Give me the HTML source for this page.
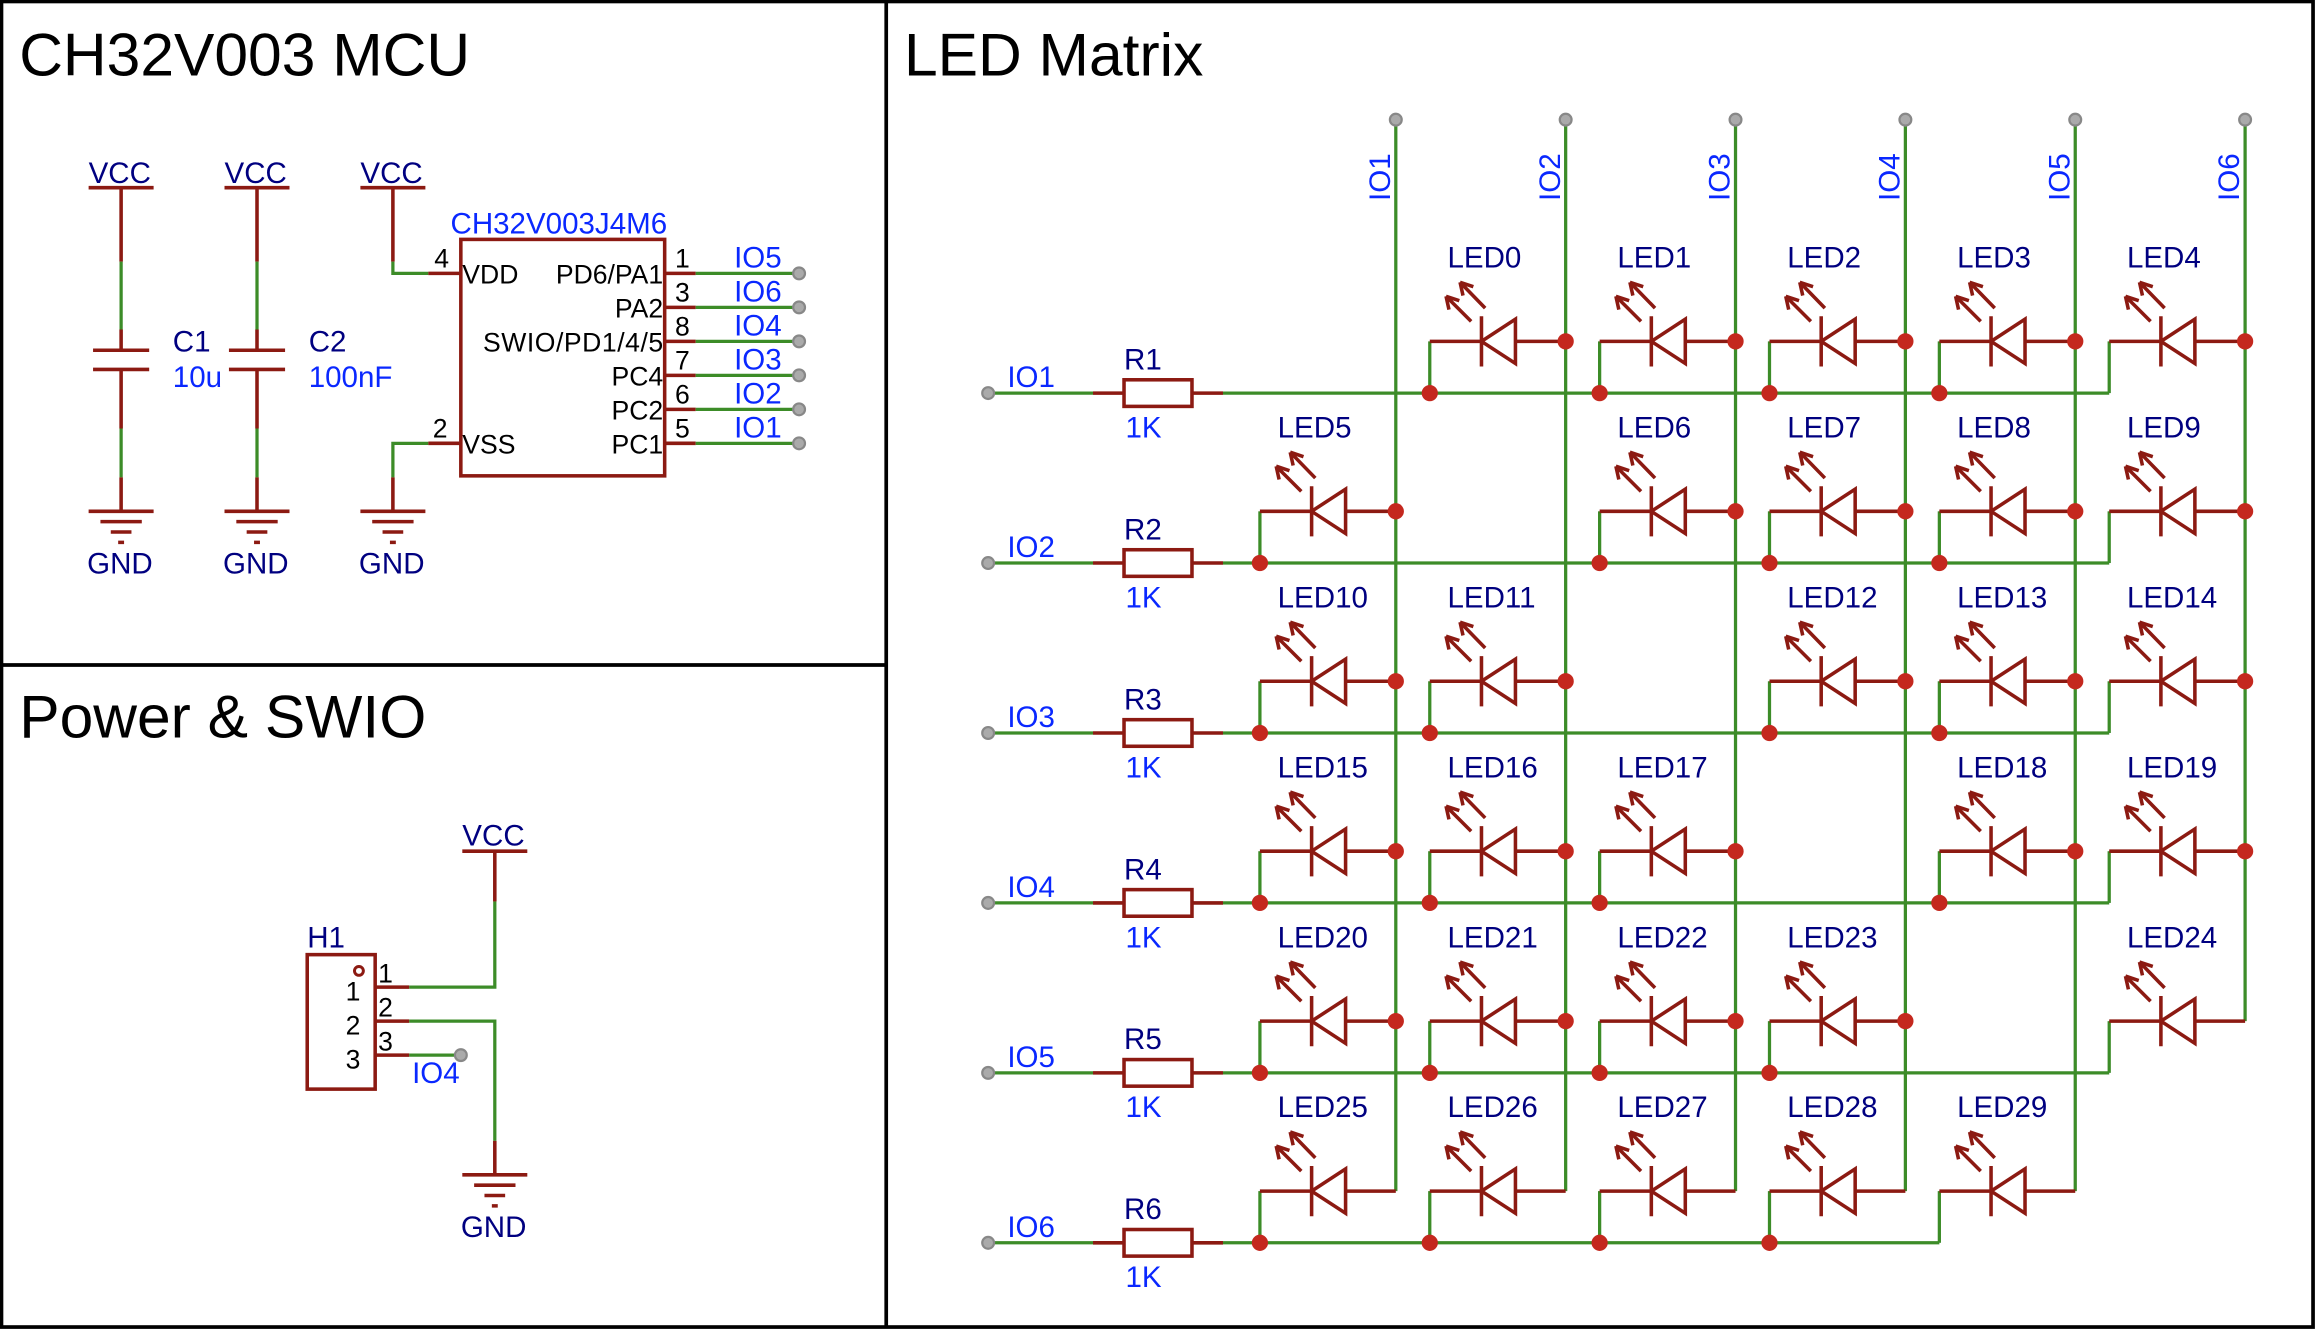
<!DOCTYPE html>
<html><head><meta charset="utf-8"><style>
html,body{margin:0;padding:0;background:#fff}
svg{display:block}
text{font-family:"Liberation Sans",Arial,sans-serif}
.t{font-size:41px;fill:#000}
.n{font-size:20px;fill:#000080}
.b{font-size:20px;fill:#0a28ff}
.k{font-size:18px;fill:#000}
.g{stroke:#3c8c28;stroke-width:2.2;fill:none}
.r{stroke:#8c1a12;stroke-width:2.4;fill:none}
.d{fill:#c4281e}
.p{fill:#aaa;stroke:#888;stroke-width:1.5}
</style></head><body>
<svg width="2316" height="1330" viewBox="0 0 1568 900" preserveAspectRatio="none" xmlns="http://www.w3.org/2000/svg">
<defs>
<g id="led">
<path class="g" d="M0 0V35"/>
<path class="r" d="M0 0H35M35 -17V17M35 0L58 -15V15Z M58 0H92"/>
<path class="r" d="M28 -13.5L11 -30.5M11 -30.5l2 9M11 -30.5l9 3M37.5 -22.5L20.5 -40M20.5 -40l2 9M20.5 -40l9 3"/>
</g>
<g id="gnd"><path class="r" d="M-22 0H22M-14 7H14M-7 14H7M-2 21H2"/></g>
</defs>
<rect x="1" y="1" width="1565" height="897" fill="none" stroke="#000" stroke-width="2.5"/>
<path d="M600 1V898M1 450H600" stroke="#000" stroke-width="2.5"/>
<text class="t" x="13" y="51">CH32V003 MCU</text>
<text class="t" x="13" y="499">Power &amp; SWIO</text>
<text class="t" x="612" y="51">LED Matrix</text>

<g>
<path class="r" d="M60 127H104M152 127H196M244 127H288"/>
<text class="n" x="60" y="124">VCC</text><text class="n" x="152" y="124">VCC</text><text class="n" x="244" y="124">VCC</text>
<path class="r" d="M82 127V177M82 223V237M82 250V290M174 127V177M174 223V237M174 250V290M63 237H101M63 250H101M155 237H193M155 250H193"/>
<path class="g" d="M82 177V223M82 290V323M174 177V223M174 290V323"/>
<path class="r" d="M82 323V346M174 323V346"/>
<use href="#gnd" x="82" y="346"/><use href="#gnd" x="174" y="346"/><use href="#gnd" x="266" y="346"/>
<text class="n" x="59" y="388">GND</text><text class="n" x="151" y="388">GND</text><text class="n" x="243" y="388">GND</text>
<text class="n" x="117" y="238">C1</text><text class="b" x="117" y="262">10u</text>
<text class="n" x="209" y="238">C2</text><text class="b" x="209" y="262">100nF</text>
<path class="r" d="M266 127V177"/><path class="g" d="M266 177V185H290"/><path class="r" d="M290 185H312"/>
<path class="g" d="M290 300H266V323"/><path class="r" d="M290 300H312M266 323V346"/>
<rect x="312" y="162" width="138" height="160" class="r"/>
<text class="b" x="305" y="158">CH32V003J4M6</text>
<text class="k" x="294" y="181">4</text><text class="k" x="293" y="296">2</text>
<text class="k" x="313" y="192">VDD</text><text class="k" x="313" y="307">VSS</text>
<g text-anchor="end" class="k">
<text class="k" x="449" y="192">PD6/PA1</text><text class="k" x="449" y="215">PA2</text><text class="k" x="449" y="238" textLength="122">SWIO/PD1/4/5</text>
<text class="k" x="449" y="261">PC4</text><text class="k" x="449" y="284">PC2</text><text class="k" x="449" y="307">PC1</text>
</g>
<path class="r" d="M450 185H471M450 208H471M450 231H471M450 254H471M450 277H471M450 300H471"/>
<path class="g" d="M471 185H541M471 208H541M471 231H541M471 254H541M471 277H541M471 300H541"/>
<circle class="p" cx="541" cy="185" r="4"/><circle class="p" cx="541" cy="208" r="4"/><circle class="p" cx="541" cy="231" r="4"/><circle class="p" cx="541" cy="254" r="4"/><circle class="p" cx="541" cy="277" r="4"/><circle class="p" cx="541" cy="300" r="4"/>
<text class="k" x="457" y="181">1</text><text class="k" x="457" y="204">3</text><text class="k" x="457" y="227">8</text><text class="k" x="457" y="250">7</text><text class="k" x="457" y="273">6</text><text class="k" x="457" y="296">5</text>
<text class="b" x="497" y="181">IO5</text><text class="b" x="497" y="204">IO6</text><text class="b" x="497" y="227">IO4</text><text class="b" x="497" y="250">IO3</text><text class="b" x="497" y="273">IO2</text><text class="b" x="497" y="296">IO1</text>
</g>

<g>
<path class="r" d="M313 576H357"/><text class="n" x="313" y="572">VCC</text>
<path class="r" d="M335 576V610"/><path class="g" d="M335 610V668H277M335 772V691H277M277 714H312"/>
<path class="r" d="M254 668H277M254 691H277M254 714H277M335 772V795"/>
<use href="#gnd" x="335" y="795"/><text class="n" x="312" y="837">GND</text>
<rect x="208" y="646" width="46" height="91" class="r"/>
<circle cx="243" cy="657" r="3" fill="none" stroke="#8c1a12" stroke-width="2"/>
<text class="n" x="208" y="641">H1</text>
<text class="k" x="234" y="677">1</text><text class="k" x="234" y="700">2</text><text class="k" x="234" y="723">3</text>
<text class="k" x="256" y="665">1</text><text class="k" x="256" y="688">2</text><text class="k" x="256" y="711">3</text>
<circle class="p" cx="312" cy="714" r="4"/>
<text class="b" x="279" y="733">IO4</text>
</g>

<path class="g" d="M945 81V806M1060 81V806M1175 81V806M1290 81V806M1405 81V806M1520 81V691"/>
<circle class="p" cx="945" cy="81" r="4"/><circle class="p" cx="1060" cy="81" r="4"/><circle class="p" cx="1175" cy="81" r="4"/><circle class="p" cx="1290" cy="81" r="4"/><circle class="p" cx="1405" cy="81" r="4"/><circle class="p" cx="1520" cy="81" r="4"/>
<g class="b">
<text class="b" transform="translate(941,136) rotate(-90)">IO1</text>
<text class="b" transform="translate(1056,136) rotate(-90)">IO2</text>
<text class="b" transform="translate(1171,136) rotate(-90)">IO3</text>
<text class="b" transform="translate(1286,136) rotate(-90)">IO4</text>
<text class="b" transform="translate(1401,136) rotate(-90)">IO5</text>
<text class="b" transform="translate(1516,136) rotate(-90)">IO6</text>
</g>

<path class="g" d="M669 266H740M669 381H740M669 496H740M669 611H740M669 726H740M669 841H740"/>
<path class="r" d="M740 266H761M807 266H828M740 381H761M807 381H828M740 496H761M807 496H828M740 611H761M807 611H828M740 726H761M807 726H828M740 841H761M807 841H828"/>
<rect class="r" x="761" y="257" width="46" height="18"/><rect class="r" x="761" y="372" width="46" height="18"/><rect class="r" x="761" y="487" width="46" height="18"/><rect class="r" x="761" y="602" width="46" height="18"/><rect class="r" x="761" y="717" width="46" height="18"/><rect class="r" x="761" y="832" width="46" height="18"/>
<path class="g" d="M828 266H1428M828 381H1428M828 496H1428M828 611H1428M828 726H1428M828 841H1313"/>
<circle class="p" cx="669" cy="266" r="4"/><circle class="p" cx="669" cy="381" r="4"/><circle class="p" cx="669" cy="496" r="4"/><circle class="p" cx="669" cy="611" r="4"/><circle class="p" cx="669" cy="726" r="4"/><circle class="p" cx="669" cy="841" r="4"/>
<text class="b" x="682" y="262">IO1</text><text class="b" x="682" y="377">IO2</text><text class="b" x="682" y="492">IO3</text><text class="b" x="682" y="607">IO4</text><text class="b" x="682" y="722">IO5</text><text class="b" x="682" y="837">IO6</text>
<text class="n" x="761" y="250">R1</text><text class="n" x="761" y="365">R2</text><text class="n" x="761" y="480">R3</text><text class="n" x="761" y="595">R4</text><text class="n" x="761" y="710">R5</text><text class="n" x="761" y="825">R6</text>
<text class="b" x="762" y="296">1K</text><text class="b" x="762" y="411">1K</text><text class="b" x="762" y="526">1K</text><text class="b" x="762" y="641">1K</text><text class="b" x="762" y="756">1K</text><text class="b" x="762" y="871">1K</text>

<use href="#led" x="968" y="231"/><use href="#led" x="1083" y="231"/><use href="#led" x="1198" y="231"/><use href="#led" x="1313" y="231"/><use href="#led" x="1428" y="231"/>
<use href="#led" x="853" y="346"/><use href="#led" x="1083" y="346"/><use href="#led" x="1198" y="346"/><use href="#led" x="1313" y="346"/><use href="#led" x="1428" y="346"/>
<use href="#led" x="853" y="461"/><use href="#led" x="968" y="461"/><use href="#led" x="1198" y="461"/><use href="#led" x="1313" y="461"/><use href="#led" x="1428" y="461"/>
<use href="#led" x="853" y="576"/><use href="#led" x="968" y="576"/><use href="#led" x="1083" y="576"/><use href="#led" x="1313" y="576"/><use href="#led" x="1428" y="576"/>
<use href="#led" x="853" y="691"/><use href="#led" x="968" y="691"/><use href="#led" x="1083" y="691"/><use href="#led" x="1198" y="691"/><use href="#led" x="1428" y="691"/>
<use href="#led" x="853" y="806"/><use href="#led" x="968" y="806"/><use href="#led" x="1083" y="806"/><use href="#led" x="1198" y="806"/><use href="#led" x="1313" y="806"/>

<text class="n" x="980" y="181">LED0</text><text class="n" x="1095" y="181">LED1</text><text class="n" x="1210" y="181">LED2</text><text class="n" x="1325" y="181">LED3</text><text class="n" x="1440" y="181">LED4</text>
<text class="n" x="865" y="296">LED5</text><text class="n" x="1095" y="296">LED6</text><text class="n" x="1210" y="296">LED7</text><text class="n" x="1325" y="296">LED8</text><text class="n" x="1440" y="296">LED9</text>
<text class="n" x="865" y="411">LED10</text><text class="n" x="980" y="411">LED11</text><text class="n" x="1210" y="411">LED12</text><text class="n" x="1325" y="411">LED13</text><text class="n" x="1440" y="411">LED14</text>
<text class="n" x="865" y="526">LED15</text><text class="n" x="980" y="526">LED16</text><text class="n" x="1095" y="526">LED17</text><text class="n" x="1325" y="526">LED18</text><text class="n" x="1440" y="526">LED19</text>
<text class="n" x="865" y="641">LED20</text><text class="n" x="980" y="641">LED21</text><text class="n" x="1095" y="641">LED22</text><text class="n" x="1210" y="641">LED23</text><text class="n" x="1440" y="641">LED24</text>
<text class="n" x="865" y="756">LED25</text><text class="n" x="980" y="756">LED26</text><text class="n" x="1095" y="756">LED27</text><text class="n" x="1210" y="756">LED28</text><text class="n" x="1325" y="756">LED29</text>

<g class="d">
<circle cx="968" cy="266" r="5.5"/><circle cx="1083" cy="266" r="5.5"/><circle cx="1198" cy="266" r="5.5"/><circle cx="1313" cy="266" r="5.5"/>
<circle cx="853" cy="381" r="5.5"/><circle cx="1083" cy="381" r="5.5"/><circle cx="1198" cy="381" r="5.5"/><circle cx="1313" cy="381" r="5.5"/>
<circle cx="853" cy="496" r="5.5"/><circle cx="968" cy="496" r="5.5"/><circle cx="1198" cy="496" r="5.5"/><circle cx="1313" cy="496" r="5.5"/>
<circle cx="853" cy="611" r="5.5"/><circle cx="968" cy="611" r="5.5"/><circle cx="1083" cy="611" r="5.5"/><circle cx="1313" cy="611" r="5.5"/>
<circle cx="853" cy="726" r="5.5"/><circle cx="968" cy="726" r="5.5"/><circle cx="1083" cy="726" r="5.5"/><circle cx="1198" cy="726" r="5.5"/>
<circle cx="853" cy="841" r="5.5"/><circle cx="968" cy="841" r="5.5"/><circle cx="1083" cy="841" r="5.5"/><circle cx="1198" cy="841" r="5.5"/>
<circle cx="945" cy="346" r="5.5"/><circle cx="945" cy="461" r="5.5"/><circle cx="945" cy="576" r="5.5"/><circle cx="945" cy="691" r="5.5"/>
<circle cx="1060" cy="231" r="5.5"/><circle cx="1060" cy="461" r="5.5"/><circle cx="1060" cy="576" r="5.5"/><circle cx="1060" cy="691" r="5.5"/>
<circle cx="1175" cy="231" r="5.5"/><circle cx="1175" cy="346" r="5.5"/><circle cx="1175" cy="576" r="5.5"/><circle cx="1175" cy="691" r="5.5"/>
<circle cx="1290" cy="231" r="5.5"/><circle cx="1290" cy="346" r="5.5"/><circle cx="1290" cy="461" r="5.5"/><circle cx="1290" cy="691" r="5.5"/>
<circle cx="1405" cy="231" r="5.5"/><circle cx="1405" cy="346" r="5.5"/><circle cx="1405" cy="461" r="5.5"/><circle cx="1405" cy="576" r="5.5"/>
<circle cx="1520" cy="231" r="5.5"/><circle cx="1520" cy="346" r="5.5"/><circle cx="1520" cy="461" r="5.5"/><circle cx="1520" cy="576" r="5.5"/>
</g>
</svg>
</body></html>
